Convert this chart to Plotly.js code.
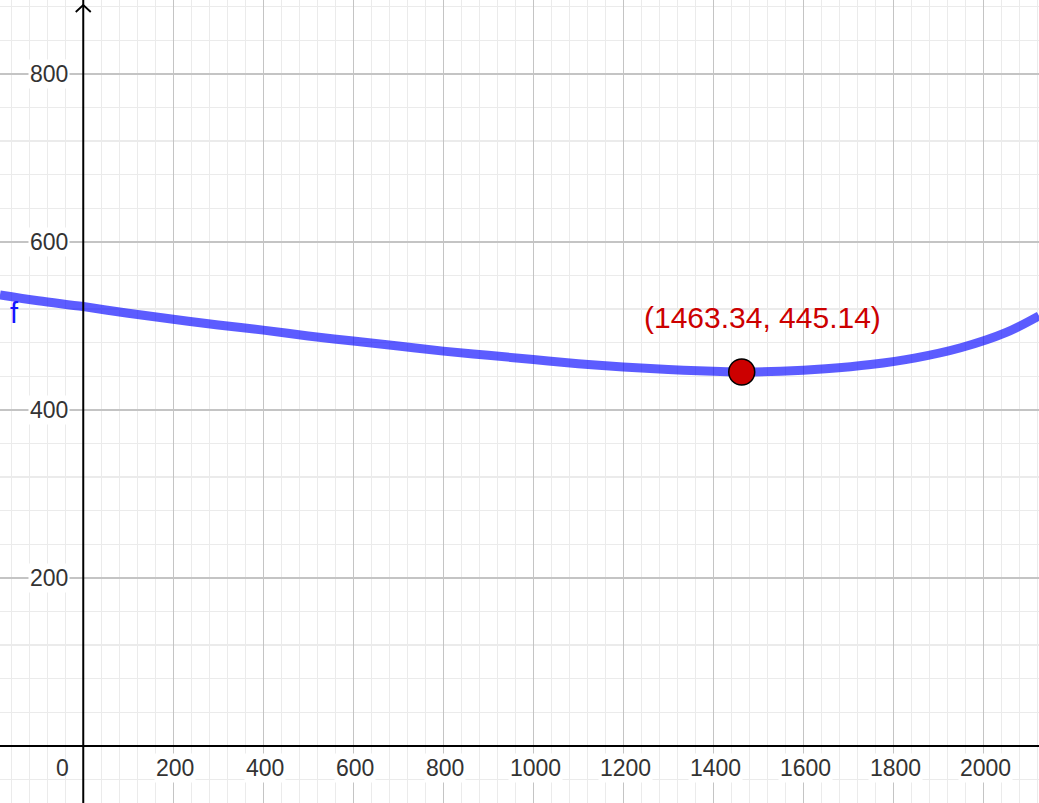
<!DOCTYPE html>
<html><head><meta charset="utf-8">
<script src="https://cdn.plot.ly/plotly-3.0.1.min.js"></script>
<style>html,body{margin:0;padding:0;background:#fff;}#chart{width:1039px;height:803px;}</style>
</head><body><div id="chart"></div>
<script>
// Curve f
const curveX = [-185, -100, 0, 100, 200, 300, 400, 500, 600, 700, 800, 900, 1000, 1100, 1200, 1300, 1400, 1463.34, 1550, 1650, 1750, 1850, 1950, 2050, 2124];
const curveY = [537, 530, 523, 515, 508, 501, 495, 488, 482, 476, 470, 465, 460, 455, 451, 448, 446, 445.14, 446, 449, 454, 462, 474, 492, 512];
// Marked point
const pointX = [1463.34];
const pointY = [445.14];
const pointLabel = '(1463.34, 445.14)';
// Tick labels
const xTicks = [200, 400, 600, 800, 1000, 1200, 1400, 1600, 1800, 2000];
const yTicks = [200, 400, 600, 800];
const xRange = [-185, 2124];
const yRange = [-68, 888];

const tickFont = {family: 'Liberation Sans, Arial, sans-serif', size: 23, color: '#333'};
const labelFont = 'Liberation Sans, Arial, sans-serif';

const traces = [
  {x: curveX, y: curveY, mode: 'lines', line: {color: 'rgba(0,0,255,0.64)', width: 9, shape: 'spline', smoothing: 1}, hoverinfo: 'skip'},
  {x: pointX, y: pointY, mode: 'markers', marker: {size: 26, color: '#cc0000', line: {color: '#000', width: 1.5}}, hoverinfo: 'skip'}
];

const gridAxis = (range, vals) => ({
  range: range,
  tickmode: 'array', tickvals: vals, showticklabels: false,
  showgrid: true, gridcolor: '#c4c4c4', gridwidth: 1.3,
  zeroline: false, showline: false, ticks: '',
  minor: {dtick: 40, tick0: 0, showgrid: true, gridcolor: '#ebebeb', gridwidth: 1.3},
  fixedrange: true
});

const annotations = [];
xTicks.forEach(v => annotations.push({x: v, y: 0, xref: 'x', yref: 'y', text: String(v), showarrow: false,
  xshift: 2, yshift: -22, bgcolor: '#fff', borderpad: 1, font: tickFont}));
yTicks.forEach(v => annotations.push({x: 0, y: v, xref: 'x', yref: 'y', text: String(v), showarrow: false,
  xanchor: 'right', xshift: -13, bgcolor: '#fff', borderpad: 1, font: tickFont}));
annotations.push({x: 0, y: 0, xref: 'x', yref: 'y', text: '0', showarrow: false, xshift: -21, yshift: -22, font: tickFont});
annotations.push({x: curveX[0], y: curveY[0], xref: 'x', yref: 'y', text: 'f', showarrow: false, xshift: 14, yshift: -18,
  font: {family: labelFont, size: 29, color: '#1414ff'}});
annotations.push({x: pointX[0], y: pointY[0], xref: 'x', yref: 'y', text: pointLabel, showarrow: false, xshift: 21, yshift: 54,
  font: {family: labelFont, size: 30, color: '#cc0000'}});

const layout = {
  width: 1039, height: 803,
  margin: {l: 0, r: 0, t: 0, b: 0},
  paper_bgcolor: '#fff', plot_bgcolor: '#fff',
  showlegend: false,
  xaxis: gridAxis(xRange, xTicks),
  yaxis: gridAxis(yRange, yTicks),
  shapes: [
    {type: 'line', xref: 'paper', yref: 'y', x0: 0, x1: 1, y0: 0, y1: 0, line: {color: '#000', width: 2}, layer: 'above'},
    {type: 'line', xref: 'x', yref: 'paper', x0: 0, x1: 0, y0: 0, y1: 1, line: {color: '#000', width: 2}, layer: 'above'},
    {type: 'path', xref: 'x', yref: 'y', xsizemode: 'pixel', ysizemode: 'pixel', xanchor: 0, yanchor: yRange[1],
      path: 'M-7.5,-12 L0,-5 L7.5,-12', line: {color: '#000', width: 1.8}, layer: 'above'}
  ],
  annotations: annotations
};

Plotly.newPlot('chart', traces, layout, {displayModeBar: false, staticPlot: true});
</script></body></html>
